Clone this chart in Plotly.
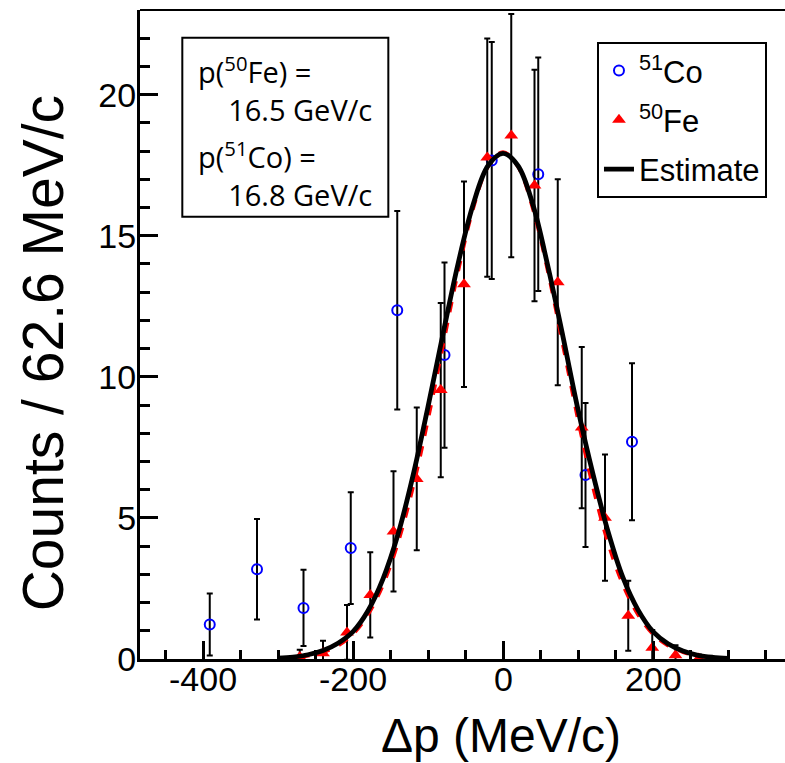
import plotly.graph_objects as go

# ---- data ----
co_x = [-391, -328, -266, -203, -141, -78, -15, 47, 110, 172]
co_y = [1.22, 3.18, 1.81, 3.93, 12.36, 10.77, 17.67, 17.18, 6.52, 7.70]
co_err = [1.10, 1.78, 1.35, 1.98, 3.52, 3.28, 4.20, 4.14, 2.55, 2.78]

fe_x = [-271, -240, -208, -177, -146, -115, -83, -52, -21, 11, 42, 73, 105, 136, 167, 199, 230, 261]
fe_y = [0.07, 0.20, 0.94, 2.27, 4.52, 6.38, 9.53, 13.28, 17.77, 18.55, 16.78, 13.35, 8.20, 5.01, 1.53, 0.40, 0.13, 0.02]
fe_err = [0.26, 0.45, 0.97, 1.51, 2.13, 2.53, 3.09, 3.64, 4.22, 4.31, 4.10, 3.65, 2.86, 2.24, 1.24, 0.63, 0.36, 0.14]

fit_x = [-300, -280, -260, -240, -220, -200, -180, -160, -140, -120, -100, -80, -60, -40, -20, 0,
         20, 40, 60, 80, 100, 120, 140, 160, 180, 200, 220, 240, 260, 280, 300]
fe_fit_y = [0.02, 0.05, 0.11, 0.24, 0.47, 0.88, 1.57, 2.62, 4.11, 6.08, 8.47, 11.10, 13.70, 15.93, 17.44, 17.97,
            17.44, 15.93, 13.70, 11.10, 8.47, 6.08, 4.11, 2.62, 1.57, 0.88, 0.47, 0.24, 0.11, 0.05, 0.02]
est_y = [0.03, 0.07, 0.15, 0.30, 0.56, 0.97, 1.71, 2.84, 4.42, 6.50, 8.94, 11.52, 14.00, 16.09, 17.48, 17.92,
         17.48, 16.09, 13.90, 11.42, 8.84, 6.55, 4.52, 2.88, 1.74, 0.97, 0.54, 0.28, 0.13, 0.06, 0.025]

x_ticks = [-400, -200, 0, 200]
y_ticks = [0, 5, 10, 15, 20]

FONT = "Liberation Sans, Arial, Helvetica, sans-serif"

fig = go.Figure()
fig.add_trace(go.Scatter(
    x=co_x, y=co_y, mode="markers", name="<sup>51</sup>Co",
    marker=dict(symbol="circle-open", size=10, color="#0000ff", line=dict(width=2, color="#0000ff")),
    error_y=dict(type="data", array=co_err, color="black", thickness=2, width=3),
    cliponaxis=False, legendgroup="a"))
fig.add_trace(go.Scatter(
    x=fe_x, y=fe_y, mode="markers", name="<sup>50</sup>Fe",
    marker=dict(symbol="triangle-up", size=12, color="#ff0000"),
    error_y=dict(type="data", array=fe_err, color="black", thickness=2, width=3),
    cliponaxis=False, legendgroup="b"))
fig.add_trace(go.Scatter(
    x=fit_x, y=fe_fit_y, mode="lines", line=dict(color="#ff0000", width=3.5, dash="dash", shape="spline"),
    showlegend=False))
fig.add_trace(go.Scatter(
    x=fit_x, y=est_y, mode="lines", name="Estimate",
    line=dict(color="black", width=4.8, shape="spline"), legendgroup="c"))

fig.update_layout(
    width=785, height=763,
    margin=dict(l=140, r=0, t=10, b=104),
    paper_bgcolor="white", plot_bgcolor="white",
    font=dict(family=FONT, color="black"),
    legend=dict(x=0.7085, y=0.951, xanchor="left", yanchor="top",
                bordercolor="black", borderwidth=2, bgcolor="white",
                font=dict(size=31, family=FONT), tracegroupgap=6, itemwidth=30,
                traceorder="grouped"),
    showlegend=True,
)
fig.update_xaxes(
    range=[-484, 376], showgrid=False, zeroline=False,
    showline=True, linecolor="black", linewidth=3,
    tickmode="array", tickvals=x_ticks, showticklabels=False,
    ticks="inside", ticklen=18, tickwidth=3, tickcolor="black",
    minor=dict(dtick=50, tick0=0, ticks="inside", ticklen=9, tickwidth=3, tickcolor="black"),
)
fig.update_yaxes(
    range=[0, 23.0], showgrid=False, zeroline=False,
    showline=True, linecolor="black", linewidth=3,
    tickmode="array", tickvals=y_ticks, ticktext=[str(v) for v in y_ticks],
    ticks="inside", ticklen=18, tickwidth=3, tickcolor="black",
    tickfont=dict(size=34, family=FONT), ticklabelstandoff=-6,
    minor=dict(dtick=1, tick0=0, ticks="inside", ticklen=10, tickwidth=3, tickcolor="black"),
)

# x tick labels placed just under the axis
for v in x_ticks:
    fig.add_annotation(text=str(v), xref="x", yref="paper", x=v, y=-0.0308,
                       xanchor="center", yanchor="middle", showarrow=False,
                       font=dict(size=34, family=FONT, color="black"))

# top frame line
fig.add_shape(type="line", xref="paper", yref="paper", x0=0, x1=1, y0=1, y1=1,
              line=dict(color="black", width=2))
# inset box
fig.add_shape(type="rect", xref="paper", yref="paper", x0=0.0656, x1=0.385, y0=0.6815, y1=0.9573,
              line=dict(color="black", width=2), fillcolor="white", layer="above")

INSET = "Open Sans, Lato, sans-serif"
IND = "&nbsp;" * 4
inset_blocks = [
    ("p(<sup>50</sup>Fe) =<br>" + IND + "16.5 GeV/c", 0.0875, 0.879),
    ("p(<sup>51</sup>Co) =<br>" + IND + "16.8 GeV/c", 0.0875, 0.7473),
]
for txt, xx, yy in inset_blocks:
    fig.add_annotation(text=txt, xref="paper", yref="paper", x=xx, y=yy,
                       xanchor="left", yanchor="middle", align="left", showarrow=False,
                       font=dict(size=29, family=INSET, color="black"))

# axis titles
fig.add_annotation(text="Δp (MeV/c)", xref="paper", yref="paper", x=0.5597, y=-0.1185,
                   xanchor="center", yanchor="middle", showarrow=False,
                   font=dict(size=48, family=FONT, color="black"))
fig.add_annotation(text="Counts / 62.6 MeV/c", xref="paper", yref="paper", x=-0.149, y=0.4708,
                   xanchor="center", yanchor="middle", showarrow=False, textangle=-90,
                   font=dict(size=57, family=FONT, color="black"))

fig.write_html("out.html", config={"displayModeBar": False},
               post_script="document.body.style.margin='0px';")
